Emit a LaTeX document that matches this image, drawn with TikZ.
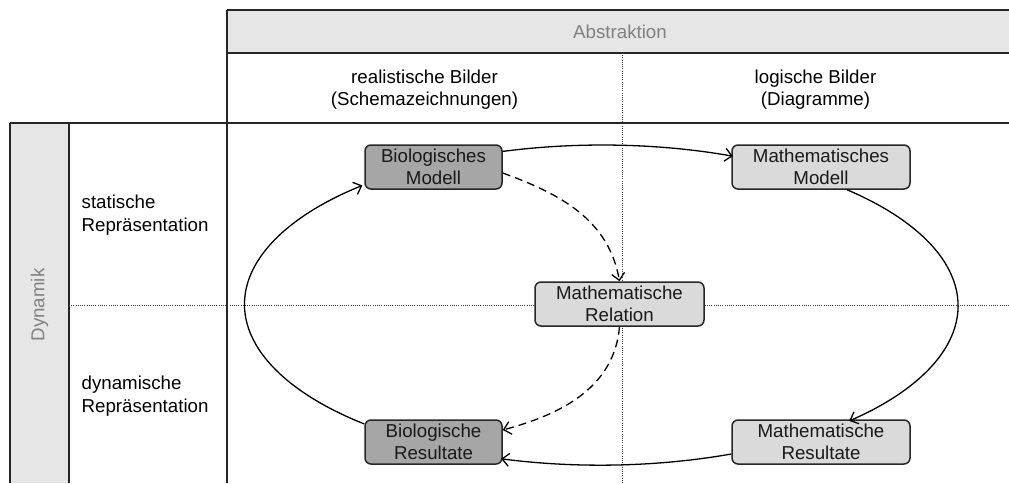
\documentclass[tikz,border=0pt]{standalone}
\usepackage{fontspec}
\setmainfont{Liberation Sans}
\usetikzlibrary{arrows.meta}

\definecolor{bandgray}{HTML}{E6E6E6}
\definecolor{biogray}{HTML}{A6A6A6}
\definecolor{mathgray}{HTML}{DADADA}
\definecolor{labelgray}{HTML}{808080}

\begin{document}
\begin{tikzpicture}[x=1pt,y=1pt,
    line width=1.3pt,
    font=\fontsize{18.7}{22.5}\selectfont,
    >={Straight Barb[length=7pt,width=13pt]},
    grid/.style={draw=black!85},
    sep/.style={draw=black!75,line width=1pt,dash pattern=on 1pt off 1.2pt},
    box/.style={draw=black!85,rounded corners=6pt,align=center,
      minimum height=44pt,inner sep=0pt,line width=1.5pt,text=black!90}]

        \useasboundingbox (0,0) rectangle (1009,483);

        % Rahmen
        \fill[bandgray] (227,430) rectangle (1009,473);
        \fill[bandgray] (10,0) rectangle (69,360);
        \draw[grid] (227,473) -- (1009,473);
        \draw[grid] (227,430) -- (1009,430);
        \draw[grid] (10,360) -- (1009,360);
        \draw[grid] (227,473) -- (227,0);
        \draw[grid] (10,360) -- (10,0);
        \draw[grid] (69,360) -- (69,0);

        \draw[sep] (622,430) -- (622,0);
        \draw[sep] (69,178) -- (1009,178);

        \node[text=labelgray] (abs) at (620,451) {Abstraktion};
        \node[rotate=90,text=labelgray] (dynamik) at (39.5,178) {Dynamik};
        \node[align=center] (real) at (424.5,393.5) {realistische Bilder\\(Schemazeichnungen)};
        \node[align=center] (log) at (815.5,393.5) {logische Bilder\\(Diagramme)};
        \node[align=left,anchor=west,inner sep=0pt] (stat) at (81,268) {statische\\Repräsentation};
        \node[align=left,anchor=west,inner sep=0pt] (dyn) at (81,87) {dynamische\\Repräsentation};

        \begin{scope}[every node/.style=box]
          \node[fill=biogray,minimum width=137pt]  (1) at (433.5,316) {Biologisches\\Modell};
          \node[fill=mathgray,minimum width=178pt] (2) at (821,316)   {Mathematisches\\Modell};
          \node[fill=mathgray,minimum width=169pt] (3) at (619.5,179) {Mathematische\\Relation};
          \node[fill=mathgray,minimum width=178pt] (4) at (821,41)    {Mathematische\\Resultate};
          \node[fill=biogray,minimum width=137pt]  (5) at (433.5,41)  {Biologische\\Resultate};
        \end{scope}

        \begin{scope}[x radius=356.5,y radius=160]
          \draw[->] ([yshift=15.6pt]1.east) arc[start angle=106.2,end angle=68.5];
          \draw[->] ([xshift=26pt]2.south) arc[start angle=46.5,end angle=-46];
          \draw[->] ([yshift=-12pt]4.west) arc[start angle=-68.5,end angle=-106.2];
          \draw[->] ([yshift=-4.7pt]5.north west) arc[start angle=228.4,end angle=132];
        \end{scope}

        \begin{scope}[every edge/.style={draw,->,dash pattern=on 8pt off 5pt}]
          \path ([yshift=-6pt]1.east) edge[out=-20,in=100] (3.north);
          \path (3.south) edge[out=-95,in=15] ([yshift=12pt]5.east);
        \end{scope}

      \end{tikzpicture}
\end{document}
